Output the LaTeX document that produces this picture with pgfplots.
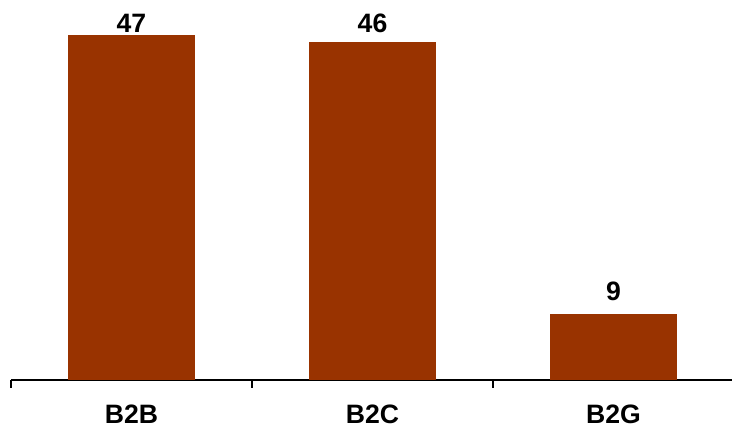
\documentclass[border=0pt]{standalone}
\usepackage{pgfplots}
\pgfplotsset{compat=1.18}
\usepackage{fontspec}
\setmainfont{Liberation Sans}
\definecolor{barc}{RGB}{153,51,0}
\begin{document}
\begin{tikzpicture}
\useasboundingbox (0,0) rectangle (366pt,215.5pt);
\begin{axis}[
  at={(5.5pt,25.5pt)}, anchor=south west,
  scale only axis,
  width=361.5pt, height=172.5pt,
  xmin=-0.5, xmax=2.5, ymin=0, ymax=47,
  axis x line=bottom, axis y line=none,
  axis line style={-, line width=0.6pt, black},
  clip=false,
  xtick={-0.5,0.5,1.5,2.5},
  xticklabels={},
  tick align=outside,
  major tick length=4pt,
  tick style={black, line width=0.6pt},
  extra x ticks={0,1,2},
  extra x tick labels={B2B,B2C,B2G},
  extra x tick style={major tick length=0pt, tick style={draw=none}},
  xticklabel style={font=\fontsize{13.3}{16}\selectfont\bfseries, yshift=-9pt},
  ytick=\empty,
  /pgf/number format/assume math mode=true,
  nodes near coords,
  every node near coord/.append style={font=\fontsize{13.3}{16}\selectfont\bfseries, anchor=south, inner sep=0pt, text=black},
  point meta=y,
]
\addplot[ybar, bar shift=0pt, bar width=0.527, fill=barc, draw=none,
  every node near coord/.append style={yshift=1pt}] coordinates {(0,47)};
\addplot[ybar, bar shift=0pt, bar width=0.527, fill=barc, draw=none,
  every node near coord/.append style={yshift=4.5pt}] coordinates {(1,46)};
\addplot[ybar, bar shift=0pt, bar width=0.527, fill=barc, draw=none,
  every node near coord/.append style={yshift=6.5pt}] coordinates {(2,9)};
\end{axis}
\end{tikzpicture}
\end{document}
